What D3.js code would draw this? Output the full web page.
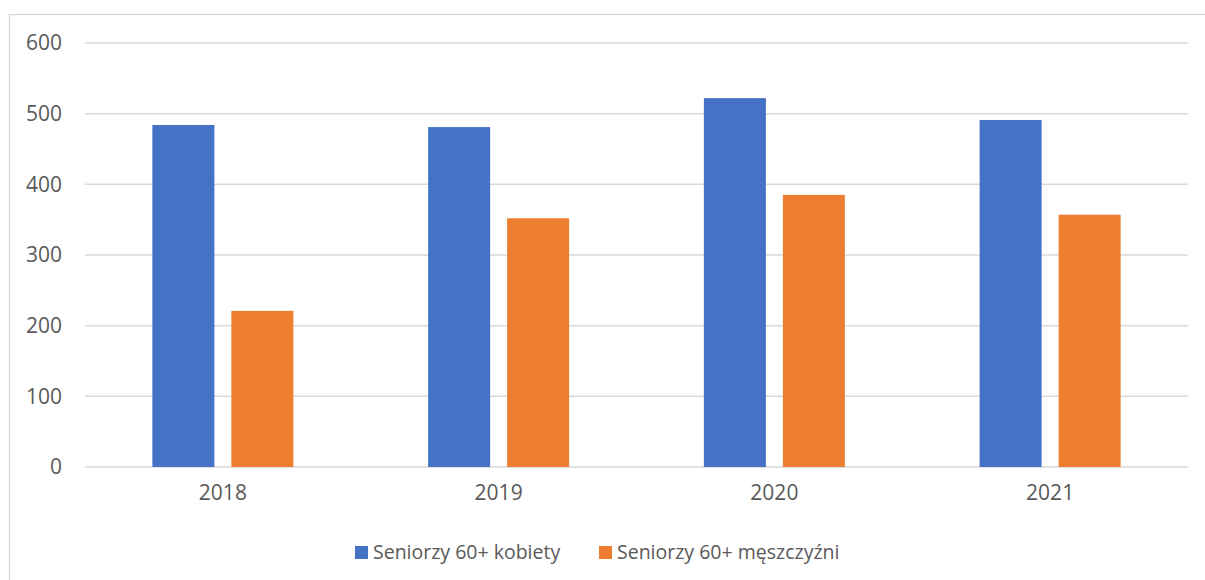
<!DOCTYPE html>
<html>
<head>
<meta charset="utf-8">
<script src="https://cdn.jsdelivr.net/npm/d3@7"></script>
<style>
  body { margin: 0; background: #fff; }
  text { font-family: "Open Sans", sans-serif; fill: #595959; }
</style>
</head>
<body>
<div id="chart"></div>
<script>
/* DATA */
const years = ["2018", "2019", "2020", "2021"];
const seriesNames = ["Seniorzy 60+ kobiety", "Seniorzy 60+ męszczyźni"];
const women = [484, 481, 522, 491];
const men = [221, 352, 385, 357];
const yTicks = [0, 100, 200, 300, 400, 500, 600];
const colors = ["#4472C4", "#ED7D31"];

/* LAYOUT */
const width = 1205,
  height = 580,
  margin = { top: 43, bottom: 113, left: 85, right: 17 };

const svg = d3.select("#chart")
  .append("svg")
  .attr("width", width)
  .attr("height", height);

// outer frame of the chart
svg.append("rect")
  .attr("x", 9.5)
  .attr("y", 14.5)
  .attr("width", width + 20)
  .attr("height", height + 20)
  .attr("fill", "none")
  .attr("stroke", "#d9d9d9")
  .attr("stroke-width", 1.3);

// + SCALES
const xScale = d3.scaleBand()
  .domain(years)
  .range([margin.left, width - margin.right])
  .paddingInner(0.4887)
  .paddingOuter(0.4887 / 2);

const xInner = d3.scaleBand()
  .domain(seriesNames)
  .range([0, xScale.bandwidth()])
  .paddingInner(0.215);

const yScale = d3.scaleLinear()
  .domain([0, 600])
  .range([height - margin.bottom, margin.top]);

// gridlines
svg.append("g")
  .selectAll("line")
  .data(yTicks)
  .join("line")
  .attr("x1", margin.left)
  .attr("x2", width - margin.right)
  .attr("y1", d => yScale(d))
  .attr("y2", d => yScale(d))
  .attr("stroke", "#d9d9d9")
  .attr("stroke-width", 1.5);

// y axis labels
const yAxis = d3.axisLeft(yScale).tickValues(yTicks).tickSize(0).tickPadding(23);
svg.append("g")
  .attr("transform", `translate(${margin.left},0)`)
  .call(yAxis)
  .call(g => g.select(".domain").remove())
  .call(g => g.selectAll("text")
    .style("font-family", "'Open Sans', sans-serif")
    .style("font-size", "21px")
    .attr("fill", "#595959"));

// x axis labels
const xAxis = d3.axisBottom(xScale).tickSize(0).tickPadding(18);
svg.append("g")
  .attr("transform", `translate(0,${height - margin.bottom})`)
  .call(xAxis)
  .call(g => g.select(".domain").remove())
  .call(g => g.selectAll("text")
    .style("font-family", "'Open Sans', sans-serif")
    .style("font-size", "21px")
    .attr("fill", "#595959"));

// bars
const rows = years.map((y, i) => ({ year: y, values: [women[i], men[i]] }));

svg.append("g")
  .selectAll("g")
  .data(rows)
  .join("g")
  .attr("transform", d => `translate(${xScale(d.year)},0)`)
  .selectAll("rect")
  .data(d => d.values.map((v, j) => ({ name: seriesNames[j], value: v, color: colors[j] })))
  .join("rect")
  .attr("x", d => xInner(d.name))
  .attr("width", xInner.bandwidth())
  .attr("y", d => yScale(d.value))
  .attr("height", d => yScale(0) - yScale(d.value))
  .attr("fill", d => d.color);

// legend
const legendX = [355, 599];
const legend = svg.append("g")
  .selectAll("g")
  .data(seriesNames)
  .join("g")
  .attr("transform", (d, i) => `translate(${legendX[i]},546)`);

legend.append("rect")
  .attr("width", 13)
  .attr("height", 13)
  .attr("fill", (d, i) => colors[i]);

legend.append("text")
  .attr("x", 18)
  .attr("y", 6.5)
  .attr("dy", "0.35em")
  .style("font-size", "19.5px")
  .text(d => d);
</script>
</body>
</html>
